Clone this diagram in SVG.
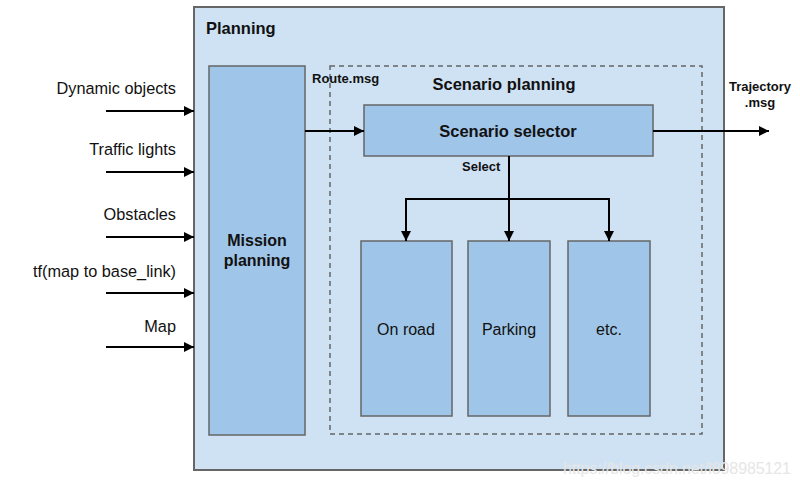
<svg xmlns="http://www.w3.org/2000/svg" width="800" height="486" viewBox="0 0 800 486">
<style>
text{font-family:"Liberation Sans",Arial,sans-serif;fill:#111}
.b{font-weight:bold}
.box{fill:#9fc5e8;stroke:#666;stroke-width:1.5}
.ln{stroke:#000;stroke-width:2;fill:none}
</style>
<defs>
<marker id="ah" viewBox="0 0 10 10" refX="10" refY="5" markerWidth="10" markerHeight="10" markerUnits="userSpaceOnUse" orient="auto">
<path d="M0,0 L10,5 L0,10 Z" fill="#000"/>
</marker>
</defs>
<rect width="800" height="486" fill="#fff"/>
<g id="planning">
<rect x="194" y="7" width="530" height="463" fill="#cfe2f3" stroke="#666" stroke-width="2"/>
<text x="206" y="34" class="b" font-size="16.5">Planning</text>
</g>
<g id="scenario-planning">
<rect x="330" y="66" width="372" height="368" fill="none" stroke="#666" stroke-width="1.5" stroke-dasharray="5,4"/>
<text x="504" y="90" class="b" font-size="16.5" text-anchor="middle">Scenario planning</text>
</g>
<g id="mission-planning">
<rect class="box" x="209" y="66" width="96" height="369"/>
<text x="257" y="246" class="b" font-size="16" text-anchor="middle">Mission</text>
<text x="257" y="266" class="b" font-size="16" text-anchor="middle">planning</text>
</g>
<g id="scenario-selector">
<rect class="box" x="364" y="105" width="289" height="51"/>
<text x="508" y="137" class="b" font-size="16.5" text-anchor="middle">Scenario selector</text>
</g>
<g id="on-road">
<rect class="box" x="361" y="241" width="91" height="175"/>
<text x="406" y="335" font-size="16" text-anchor="middle">On road</text>
</g>
<g id="parking">
<rect class="box" x="468" y="241" width="82" height="175"/>
<text x="509" y="335" font-size="16" text-anchor="middle">Parking</text>
</g>
<g id="etc">
<rect class="box" x="568" y="241" width="82" height="175"/>
<text x="609" y="335" font-size="16" text-anchor="middle">etc.</text>
</g>
<g id="connectors">
<line class="ln" x1="106" y1="111" x2="194" y2="111" marker-end="url(#ah)"/>
<line class="ln" x1="106" y1="172" x2="194" y2="172" marker-end="url(#ah)"/>
<line class="ln" x1="106" y1="237" x2="194" y2="237" marker-end="url(#ah)"/>
<line class="ln" x1="106" y1="293" x2="194" y2="293" marker-end="url(#ah)"/>
<line class="ln" x1="106" y1="347" x2="194" y2="347" marker-end="url(#ah)"/>
<line class="ln" x1="305" y1="131" x2="364" y2="131" marker-end="url(#ah)"/>
<line class="ln" x1="653" y1="131" x2="769" y2="131" marker-end="url(#ah)"/>
<line class="ln" x1="509" y1="156" x2="509" y2="241" marker-end="url(#ah)"/>
<line class="ln" x1="405" y1="199" x2="610" y2="199"/>
<line class="ln" x1="406" y1="199" x2="406" y2="241" marker-end="url(#ah)"/>
<line class="ln" x1="609" y1="199" x2="609" y2="241" marker-end="url(#ah)"/>
</g>
<g id="labels">
<text x="176" y="94" font-size="16.3" text-anchor="end">Dynamic objects</text>
<text x="176" y="155" font-size="16.3" text-anchor="end">Traffic lights</text>
<text x="176" y="220" font-size="16.3" text-anchor="end">Obstacles</text>
<text x="176" y="277" font-size="16.3" text-anchor="end">tf(map to base_link)</text>
<text x="176" y="332" font-size="16.3" text-anchor="end">Map</text>
<text x="312" y="83" class="b" font-size="13">Route.msg</text>
<text x="462" y="171" class="b" font-size="13">Select</text>
<text x="760" y="91" class="b" font-size="13" text-anchor="middle">Trajectory</text>
<text x="760" y="107" class="b" font-size="13" text-anchor="middle">.msg</text>
<text x="563" y="474" font-size="16" textLength="228" style="fill:#e6e6e6">https://blog.csdn.net/l898985121</text>
</g>
</svg>
